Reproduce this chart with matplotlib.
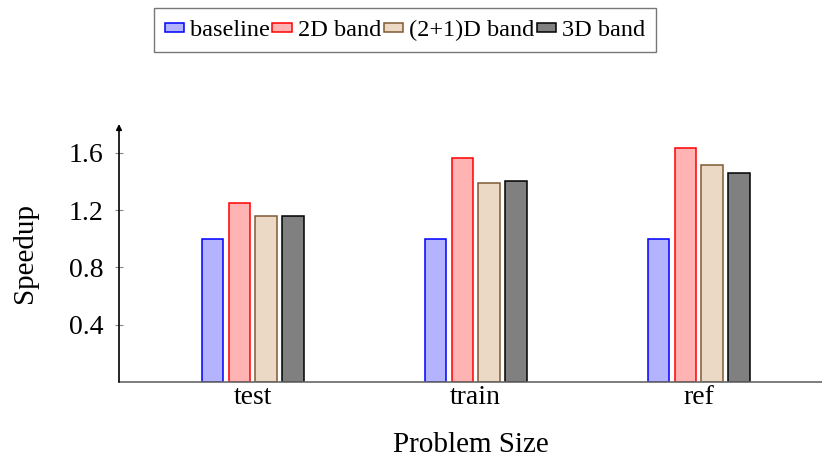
import matplotlib.pyplot as plt
import numpy as np
from matplotlib.legend_handler import HandlerPatch
from matplotlib.patches import Rectangle

plt.rcParams['font.family'] = ['Liberation Serif', 'DejaVu Serif']

sizes = ['test', 'train', 'ref']
series = ['baseline', '2D band', '(2+1)D band', '3D band']
speedup = {
    'baseline': [1.0, 1.0, 1.0],
    '2D band': [1.25, 1.565, 1.635],
    '(2+1)D band': [1.155, 1.385, 1.515],
    '3D band': [1.16, 1.405, 1.46],
}
yticks = [0.4, 0.8, 1.2, 1.6]

fills = ['#b3b3ff', '#ffb3b3', '#ebd9c6', '#808080']
edges = ['#0000ff', '#ff0000', '#805a33', '#000000']


def flat_box(legend, orig_handle, xdescent, ydescent, width, height, fontsize):
    # short wide rectangle like the pgfplots legend image
    h = 0.33 * fontsize
    return Rectangle((-xdescent, -ydescent + (height - h) / 2), width, h)


fig = plt.figure(figsize=(8.22, 4.57), dpi=100)
ax = fig.add_axes([119/822, 1-382/457, 1-119/822, (382-124)/457])

x = np.arange(len(sizes))
w = 0.096
step = 0.12
handles = []
for i, s in enumerate(series):
    b = ax.bar(x + (i - 1.5)*step, speedup[s], width=w, color=fills[i],
               edgecolor=edges[i], linewidth=1.1, label=s, zorder=2)
    handles.append(b.patches[0])

ax.set_xlim(-0.6, 2.553)
ax.set_ylim(0, 1.80)
ax.set_xticks(x)
ax.set_xticklabels(sizes)
ax.set_yticks(yticks)
ax.set_yticklabels([f'{t:.1f}' for t in yticks])
ax.tick_params(axis='y', direction='inout', length=6, color='#888888', labelsize=20, pad=8)
ax.tick_params(axis='x', length=0, labelsize=20, pad=2)

for sp in ['top', 'right', 'left']:
    ax.spines[sp].set_visible(False)
ax.spines['bottom'].set_color('#666666')
ax.spines['bottom'].set_linewidth(1.2)
ax.annotate('', xy=(0, 1), xycoords='axes fraction', xytext=(0, 0),
            arrowprops=dict(arrowstyle='-|>', color='black', lw=1.2,
                            mutation_scale=8, shrinkA=0, shrinkB=0))

ax.set_ylabel('Speedup', fontsize=21, labelpad=22)
ax.set_xlabel('Problem Size', fontsize=21, labelpad=16)

leg = fig.legend(handles, series, loc='center', bbox_to_anchor=(405/822, 1-30/457), ncol=4,
                 fontsize=17.5, frameon=True, fancybox=False, edgecolor='#555555',
                 handlelength=0.8, handletextpad=0.25,
                 handler_map={Rectangle: HandlerPatch(patch_func=flat_box)},
                 columnspacing=0.1, borderpad=0.45, borderaxespad=0)
leg.get_frame().set_linewidth(1.0)

fig.savefig('out.png', dpi=100)
